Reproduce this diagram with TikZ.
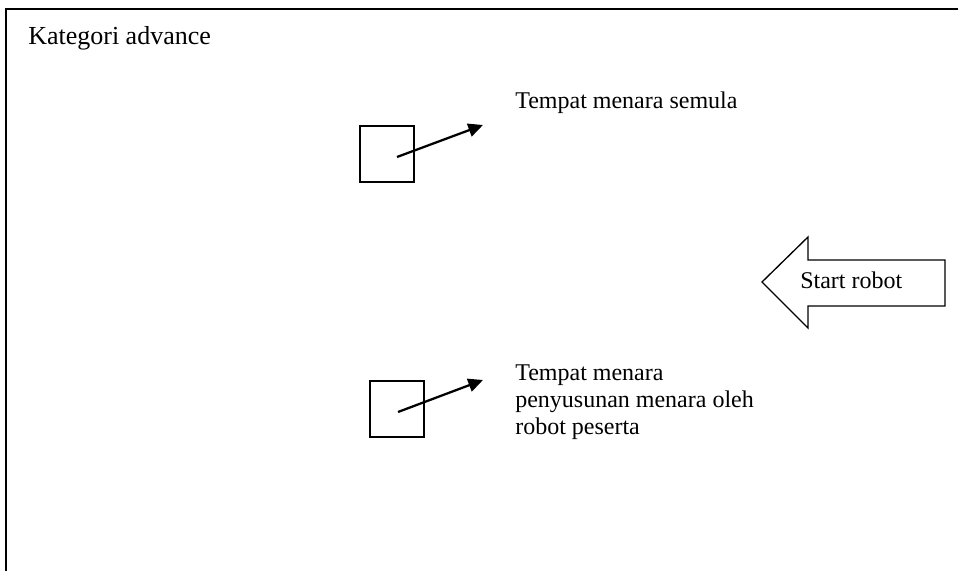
\documentclass[tikz,border=0pt]{standalone}
\usepackage{fontspec}
\setmainfont{Liberation Serif}
\usetikzlibrary{arrows.meta}
\begin{document}
\begin{tikzpicture}[x=0.75pt,y=-0.75pt,
  label text/.style={font=\fontsize{18}{20}\selectfont, inner sep=0pt, anchor=base west, align=left},
  spot/.style={draw, line width=1pt, minimum width=40.5pt, minimum height=42pt, inner sep=0pt},
  pointer/.style={line width=1.7pt, -{Triangle[length=11pt,width=10pt]}},
  outline/.style={draw, line width=1pt, line join=miter}]
  \useasboundingbox (0,0) rectangle (958,571);
  \clip (0,0) rectangle (958,571);

  % field border (left and top edges)
  \draw[line width=1.5pt] (6,600) -- (6,9) -- (990,9);

  \node[label text, font=\fontsize{19.5}{22}\selectfont] (title) at (28,45) {Kategori advance};

  % starting tower spot
  \node[spot] (spotA) at (387,154) {};
  \coordinate (fromA) at (397,157);
  \coordinate (toA) at (483,125);
  \draw[pointer] (fromA) -- (toA);
  \node[label text] (labelA) at (515,108) {Tempat menara semula};

  % stacking spot
  \node[spot] (spotB) at (397,409) {};
  \coordinate (fromB) at (398,412);
  \coordinate (toB) at (483,380);
  \draw[pointer] (fromB) -- (toB);
  \node[label text] (labelB) at (515,434) {Tempat menara\\penyusunan menara oleh\\robot peserta};

  % robot start arrow
  \draw[outline] (762,282) -- (808,237) -- (808,260) -- (945,260) -- (945,306)
    -- (808,306) -- (808,328) -- cycle;
  \node[label text] (start) at (800,288) {Start robot};
\end{tikzpicture}
\end{document}
